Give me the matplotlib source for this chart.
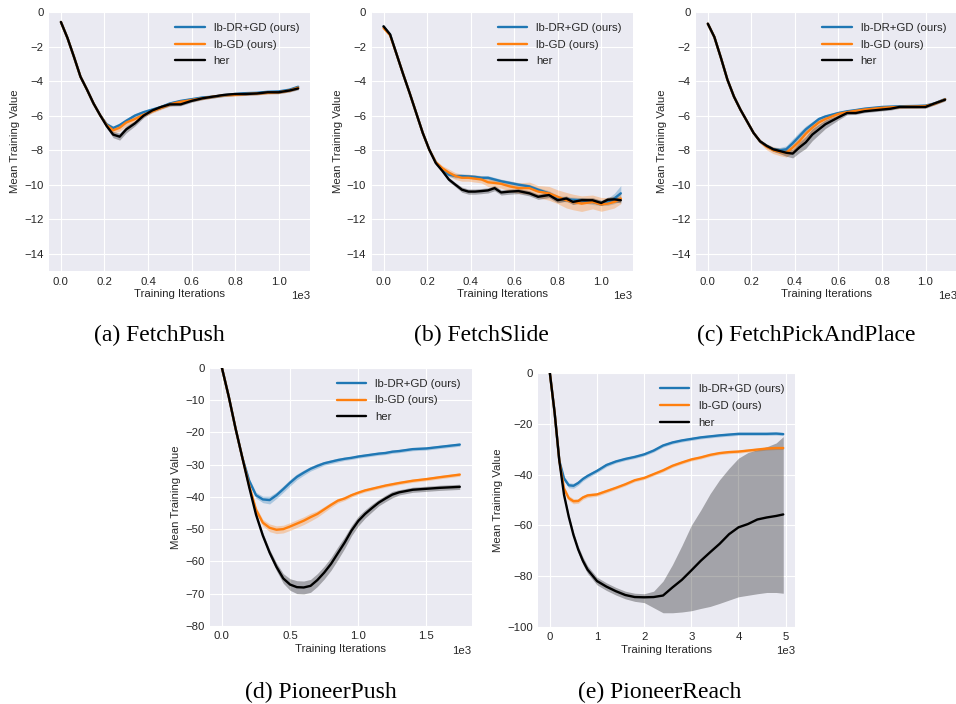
import matplotlib
matplotlib.use("Agg")
import matplotlib.pyplot as plt
import numpy as np

# ---- (a) FetchPush ----
push_x = [0, 30, 60, 90, 120, 150, 180, 210, 240, 270, 300, 340, 380, 420, 460, 500, 550, 600,
          650, 700, 750, 800, 850, 900, 950, 1000, 1050, 1090]
push_dr = [-0.58, -1.5, -2.6, -3.75, -4.5, -5.3, -5.97, -6.5, -6.72, -6.55, -6.3, -6.0, -5.8, -5.65,
           -5.5, -5.3, -5.15, -5.05, -4.95, -4.9, -4.82, -4.75, -4.7, -4.68, -4.62, -4.6, -4.5, -4.33]
push_gd = [-0.58, -1.5, -2.6, -3.75, -4.5, -5.3, -5.97, -6.55, -6.85, -6.7, -6.4, -6.2, -5.95, -5.75,
           -5.55, -5.35, -5.2, -5.1, -5.0, -4.9, -4.82, -4.8, -4.75, -4.72, -4.68, -4.65, -4.55, -4.38]
push_her = [-0.58, -1.5, -2.6, -3.75, -4.5, -5.3, -5.97, -6.6, -7.1, -7.22, -6.8, -6.45, -6.0, -5.7,
            -5.5, -5.35, -5.35, -5.15, -5.0, -4.9, -4.8, -4.75, -4.75, -4.72, -4.65, -4.65, -4.55, -4.43]
push_sd_dr = [0.05, 0.05, 0.05, 0.05, 0.05, 0.05, 0.08, 0.1, 0.12, 0.12, 0.12, 0.12, 0.1, 0.1,
              0.1, 0.1, 0.08, 0.08, 0.08, 0.08, 0.08, 0.08, 0.08, 0.08, 0.08, 0.08, 0.08, 0.08]
push_sd_gd = [0.05, 0.05, 0.05, 0.05, 0.05, 0.05, 0.08, 0.12, 0.18, 0.2, 0.2, 0.15, 0.12, 0.1,
              0.1, 0.1, 0.08, 0.08, 0.08, 0.08, 0.08, 0.08, 0.08, 0.08, 0.08, 0.08, 0.08, 0.08]
push_sd_her = [0.05, 0.05, 0.05, 0.05, 0.05, 0.05, 0.08, 0.12, 0.18, 0.2, 0.2, 0.15, 0.12, 0.1,
               0.1, 0.1, 0.08, 0.08, 0.08, 0.08, 0.08, 0.08, 0.08, 0.08, 0.08, 0.08, 0.08, 0.08]

# ---- (b) FetchSlide ----
slide_x = [0, 30, 60, 90, 120, 150, 180, 210, 240, 270, 300, 330, 360, 390, 420, 450, 480, 510, 540,
           580, 620, 670, 710, 760, 800, 840, 870, 910, 960, 1000, 1030, 1060, 1090]
slide_dr = [-0.85, -1.3, -2.45, -3.6, -4.7, -5.85, -7.0, -7.97, -8.7, -9.1, -9.42, -9.5, -9.5, -9.52,
            -9.55, -9.6, -9.6, -9.7, -9.8, -9.9, -10.0, -10.1, -10.29, -10.5, -10.77, -10.85, -10.87,
            -10.9, -11.0, -11.06, -11.0, -10.8, -10.5]
slide_gd = [-0.93, -1.35, -2.45, -3.6, -4.7, -5.85, -7.0, -7.97, -8.7, -9.05, -9.3, -9.5, -9.6, -9.6,
            -9.65, -9.7, -9.86, -9.9, -9.95, -10.1, -10.2, -10.2, -10.4, -10.5, -10.7, -10.9, -11.0,
            -11.1, -11.0, -11.14, -11.1, -11.0, -10.8]
slide_her = [-0.83, -1.3, -2.45, -3.6, -4.7, -5.85, -7.0, -7.97, -8.75, -9.2, -9.7, -10.0, -10.29,
             -10.4, -10.4, -10.37, -10.33, -10.2, -10.45, -10.4, -10.37, -10.5, -10.7, -10.6, -10.9,
             -10.8, -11.0, -10.9, -10.9, -11.06, -10.87, -10.85, -10.9]
slide_sd_dr = [0.05, 0.05, 0.05, 0.05, 0.05, 0.05, 0.05, 0.08, 0.1, 0.1, 0.12, 0.12, 0.12, 0.12, 0.12,
               0.12, 0.12, 0.12, 0.12, 0.12, 0.12, 0.12, 0.12, 0.15, 0.15, 0.15, 0.15, 0.15, 0.15,
               0.15, 0.2, 0.3, 0.45]
slide_sd_gd = [0.05, 0.05, 0.05, 0.05, 0.05, 0.05, 0.05, 0.08, 0.1, 0.15, 0.2, 0.2, 0.2, 0.2, 0.2,
               0.2, 0.25, 0.25, 0.25, 0.3, 0.3, 0.35, 0.35, 0.4, 0.4, 0.45, 0.45, 0.45, 0.4, 0.4,
               0.35, 0.35, 0.3]
slide_sd_her = [0.05, 0.05, 0.05, 0.05, 0.05, 0.05, 0.05, 0.08, 0.1, 0.1, 0.12, 0.12, 0.15, 0.15,
                0.15, 0.15, 0.15, 0.15, 0.15, 0.15, 0.15, 0.15, 0.15, 0.15, 0.15, 0.15, 0.15, 0.15,
                0.15, 0.15, 0.15, 0.15, 0.15]

# ---- (c) FetchPickAndPlace ----
pick_x = [0, 30, 60, 90, 120, 150, 180, 210, 240, 270, 300, 330, 360, 390, 420, 450, 480, 510, 540,
          570, 600, 640, 680, 720, 760, 800, 840, 880, 920, 960, 1000, 1040, 1090]
pick_dr = [-0.68, -1.45, -2.65, -3.92, -4.9, -5.66, -6.33, -7.0, -7.49, -7.75, -7.95, -8.0, -7.95,
           -7.6, -7.2, -6.8, -6.5, -6.2, -6.05, -5.95, -5.85, -5.75, -5.68, -5.6, -5.55, -5.5, -5.48,
           -5.46, -5.45, -5.44, -5.42, -5.3, -5.04]
pick_gd = [-0.68, -1.45, -2.65, -3.92, -4.9, -5.66, -6.33, -7.0, -7.49, -7.8, -8.0, -8.1, -8.15,
           -7.85, -7.5, -7.05, -6.7, -6.4, -6.2, -6.05, -5.9, -5.8, -5.72, -5.65, -5.6, -5.55, -5.52,
           -5.5, -5.48, -5.47, -5.45, -5.32, -5.06]
pick_her = [-0.68, -1.45, -2.65, -3.92, -4.9, -5.66, -6.33, -7.0, -7.49, -7.75, -7.95, -8.05, -8.15,
            -8.2, -7.85, -7.55, -7.1, -6.8, -6.5, -6.3, -6.1, -5.85, -5.85, -5.75, -5.7, -5.65, -5.6,
            -5.5, -5.5, -5.5, -5.5, -5.3, -5.08]
pick_sd_dr = [0.05, 0.05, 0.05, 0.05, 0.05, 0.05, 0.05, 0.08, 0.1, 0.1, 0.12, 0.15, 0.2, 0.25, 0.25,
              0.2, 0.15, 0.12, 0.1, 0.1, 0.1, 0.08, 0.08, 0.08, 0.08, 0.08, 0.08, 0.08, 0.08, 0.08,
              0.08, 0.08, 0.08]
pick_sd_gd = [0.05, 0.05, 0.05, 0.05, 0.05, 0.05, 0.05, 0.08, 0.12, 0.18, 0.2, 0.22, 0.25, 0.3, 0.3,
              0.3, 0.25, 0.2, 0.15, 0.12, 0.1, 0.1, 0.08, 0.08, 0.08, 0.08, 0.08, 0.1, 0.1, 0.1,
              0.08, 0.08, 0.08]
pick_sd_her = [0.05, 0.05, 0.05, 0.05, 0.05, 0.05, 0.05, 0.08, 0.1, 0.1, 0.12, 0.15, 0.2, 0.25, 0.3,
               0.35, 0.35, 0.3, 0.25, 0.2, 0.15, 0.1, 0.08, 0.08, 0.08, 0.08, 0.08, 0.08, 0.08, 0.08,
               0.08, 0.08, 0.08]

# ---- (d) PioneerPush ----
ppush_x = [0, 50, 100, 150, 200, 250, 300, 350, 400, 450, 500, 550, 600, 650, 700, 750, 800, 850,
           900, 950, 1000, 1050, 1100, 1150, 1200, 1250, 1300, 1400, 1500, 1600, 1745]
ppush_dr = [0, -8.9, -18.8, -27.9, -35.0, -39.5, -40.8, -41.0, -39.5, -37.6, -35.6, -33.8, -32.5,
            -31.3, -30.4, -29.6, -29.1, -28.6, -28.2, -27.9, -27.5, -27.2, -26.9, -26.6, -26.4,
            -26.0, -25.8, -25.2, -25.0, -24.5, -23.8]
ppush_gd = [0, -8.9, -18.8, -27.9, -36.5, -44.0, -48.0, -49.6, -50.2, -50.0, -49.2, -48.3, -47.4,
            -46.3, -45.3, -43.9, -42.5, -41.2, -40.5, -39.5, -38.7, -38.0, -37.5, -37.0, -36.5,
            -36.1, -35.7, -35.0, -34.5, -33.9, -33.1]
ppush_her = [0, -8.9, -18.8, -27.9, -37.0, -45.5, -52.0, -57.3, -61.7, -65.3, -67.2, -68.0, -68.1,
             -67.6, -65.8, -63.5, -60.8, -57.5, -54.2, -50.5, -47.5, -45.3, -43.5, -41.8, -40.5,
             -39.3, -38.6, -37.8, -37.5, -37.2, -36.9]
ppush_sd_dr = [0, 0.3, 0.5, 0.6, 0.7, 0.9, 1.0, 1.2, 1.0, 1.0, 1.0, 0.9, 0.8, 0.7, 0.7, 0.6, 0.6,
               0.6, 0.5, 0.5, 0.5, 0.5, 0.5, 0.5, 0.5, 0.5, 0.5, 0.5, 0.5, 0.5, 0.5]
ppush_sd_gd = [0, 0.3, 0.5, 0.6, 0.7, 0.9, 1.0, 1.2, 1.2, 1.2, 1.2, 1.2, 1.2, 1.2, 1.0, 0.9, 0.8,
               0.7, 0.6, 0.6, 0.5, 0.5, 0.5, 0.5, 0.5, 0.5, 0.5, 0.5, 0.5, 0.5, 0.5]
ppush_sd_her = [0, 0.3, 0.5, 0.6, 0.7, 0.8, 0.9, 1.0, 1.2, 1.5, 1.8, 2.0, 2.0, 2.0, 2.0, 2.0, 2.0,
                2.0, 1.8, 1.6, 1.5, 1.3, 1.2, 1.0, 1.0, 1.0, 0.8, 0.8, 0.8, 0.8, 0.8]

# ---- (e) PioneerReach ----
reach_x = [0, 100, 200, 300, 400, 500, 600, 700, 800, 1000, 1200, 1400, 1600, 1800, 2000, 2200,
           2400, 2600, 2800, 3000, 3200, 3400, 3600, 3800, 4000, 4200, 4400, 4600, 4800, 4950]
reach_dr = [0, -15.5, -34.5, -41.5, -44.2, -44.4, -43.3, -41.7, -40.5, -38.5, -36.2, -34.8, -33.8,
            -33.0, -32.0, -30.5, -28.5, -27.3, -26.5, -25.9, -25.3, -24.9, -24.5, -24.2, -23.9,
            -23.9, -23.9, -23.9, -23.8, -24.0]
reach_gd = [0, -15.5, -34.5, -45.5, -49.3, -50.5, -50.4, -49.0, -48.2, -47.8, -46.5, -45.2, -43.8,
            -42.2, -41.3, -39.8, -38.3, -36.5, -35.2, -34.0, -33.2, -32.2, -31.5, -31.1, -30.9,
            -30.5, -30.1, -29.7, -29.5, -29.5]
reach_her = [0, -15.5, -34.5, -48.0, -56.6, -63.8, -69.5, -74.0, -77.5, -82.0, -84.2, -86.0, -87.5,
             -88.3, -88.4, -88.3, -87.7, -84.5, -81.5, -77.8, -74.0, -70.6, -67.3, -63.5, -60.8,
             -59.5, -57.7, -56.9, -56.3, -55.7]
reach_her_lo = [0, -16.5, -35.5, -49.0, -57.6, -65.0, -70.8, -75.5, -79.0, -83.5, -85.7, -87.5,
                -89.0, -90.0, -90.5, -92.5, -94.5, -94.5, -94.2, -93.7, -92.8, -92.0, -90.8, -89.5,
                -88.2, -87.6, -87.0, -86.5, -86.5, -86.8]
reach_her_hi = [0, -14.5, -33.5, -47.0, -55.6, -62.6, -68.2, -72.5, -76.0, -80.5, -82.7, -84.5,
                -86.0, -86.8, -87.0, -86.0, -82.0, -75.5, -68.0, -60.0, -54.0, -47.5, -42.0, -37.5,
                -33.5, -31.3, -30.2, -29.0, -27.5, -25.0]
reach_sd_dr = [0, 0.3, 0.5, 0.8, 1.0, 1.0, 0.9, 0.8, 0.8, 0.7, 0.7, 0.6, 0.6, 0.6, 0.6, 0.6, 0.6,
               0.6, 0.6, 0.6, 0.6, 0.6, 0.6, 0.6, 0.6, 0.6, 0.6, 0.6, 0.6, 0.6]
reach_sd_gd = [0, 0.3, 0.5, 0.8, 1.0, 1.0, 0.9, 0.8, 0.8, 0.7, 0.7, 0.6, 0.6, 0.6, 0.6, 0.6, 0.6,
               0.6, 0.6, 0.6, 0.6, 0.6, 0.6, 0.6, 0.6, 0.6, 0.6, 0.6, 0.6, 0.6]

labels = ["lb-DR+GD (ours)", "lb-GD (ours)", "her"]
colors = ["#1f77b4", "#ff7f0e", "black"]

plt.style.use("seaborn-v0_8-darkgrid")
plt.rcParams["font.family"] = ["Liberation Sans", "DejaVu Sans"]
plt.rcParams["axes.facecolor"] = "#EAEAF2"
plt.rcParams["text.color"] = "#262626"
plt.rcParams["axes.labelcolor"] = "#262626"
plt.rcParams["xtick.color"] = "#262626"
plt.rcParams["ytick.color"] = "#262626"

FS = 8.2


def draw(ax, x, series, bands, ylim, yticks, xticks):
    x = np.asarray(x, dtype=float)
    for (y, lab, col), (lo, hi) in zip(series, bands):
        ax.fill_between(x, lo, hi, color=col, alpha=0.3, linewidth=0)
        ax.plot(x, y, color=col, lw=1.7, label=lab)
    ax.set_ylim(*ylim)
    ax.set_yticks(yticks)
    ax.set_xticks(xticks)
    ax.ticklabel_format(axis="x", style="sci", scilimits=(0, 0))
    ax.xaxis.get_offset_text().set_fontsize(FS)
    ax.tick_params(labelsize=FS, pad=4)
    ax.set_xlabel("Training Iterations", fontsize=FS, labelpad=2)
    ax.set_ylabel("Mean Training Value", fontsize=FS, labelpad=3)
    ax.legend(loc="upper right", fontsize=FS, frameon=False, handlelength=2.6,
              labelspacing=0.6, borderaxespad=0.55)


def sd_band(y, sd):
    y = np.asarray(y)
    sd = np.asarray(sd)
    return y - sd, y + sd


fig = plt.figure(figsize=(9.56, 7.04), dpi=100)

panels = [
    ([0.0513, 0.615, 0.273, 0.368], push_x, push_dr, push_gd, push_her,
     [sd_band(push_dr, push_sd_dr), sd_band(push_gd, push_sd_gd), sd_band(push_her, push_sd_her)],
     (-15, 0), range(-14, 1, 2), range(0, 1001, 200)),
    ([0.3888, 0.615, 0.273, 0.368], slide_x, slide_dr, slide_gd, slide_her,
     [sd_band(slide_dr, slide_sd_dr), sd_band(slide_gd, slide_sd_gd), sd_band(slide_her, slide_sd_her)],
     (-15, 0), range(-14, 1, 2), range(0, 1001, 200)),
    ([0.728, 0.615, 0.273, 0.368], pick_x, pick_dr, pick_gd, pick_her,
     [sd_band(pick_dr, pick_sd_dr), sd_band(pick_gd, pick_sd_gd), sd_band(pick_her, pick_sd_her)],
     (-15, 0), range(-14, 1, 2), range(0, 1001, 200)),
    ([0.2197, 0.111, 0.2737, 0.3665], ppush_x, ppush_dr, ppush_gd, ppush_her,
     [sd_band(ppush_dr, ppush_sd_dr), sd_band(ppush_gd, ppush_sd_gd), sd_band(ppush_her, ppush_sd_her)],
     (-80, 0), range(-80, 1, 10), range(0, 1501, 500)),
    ([0.563, 0.1098, 0.2685, 0.36], reach_x, reach_dr, reach_gd, reach_her,
     [sd_band(reach_dr, reach_sd_dr), sd_band(reach_gd, reach_sd_gd), (reach_her_lo, reach_her_hi)],
     (-100, 0), range(-100, 1, 20), range(0, 5001, 1000)),
]

for rect, x, dr, gd, her, bands, ylim, yt, xt in panels:
    ax = fig.add_axes(rect)
    series = list(zip([dr, gd, her], labels, colors))
    draw(ax, x, series, bands, ylim, yt, xt)

captions = [
    (0.167, 0.523, "(a) FetchPush"),
    (0.504, 0.523, "(b) FetchSlide"),
    (0.843, 0.523, "(c) FetchPickAndPlace"),
    (0.336, 0.017, "(d) PioneerPush"),
    (0.690, 0.017, "(e) PioneerReach"),
]
for cx, cy, txt in captions:
    fig.text(cx, cy, txt, ha="center", va="center", fontsize=17,
             family=["Liberation Serif", "DejaVu Serif"], color="black")

fig.savefig("out.png", dpi=100, facecolor="white")
